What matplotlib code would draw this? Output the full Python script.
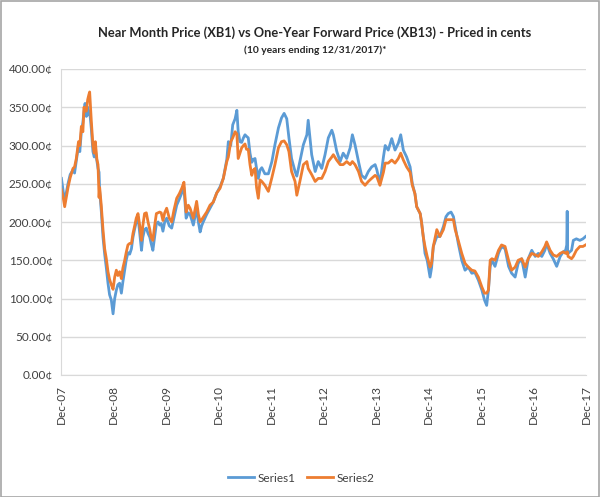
import matplotlib
matplotlib.use('Agg')
import matplotlib.pyplot as plt
from matplotlib.patches import Rectangle
from matplotlib.ticker import FuncFormatter

plt.rcParams['font.family'] = ['Lato', 'DejaVu Sans']

# months after Dec-07 (axis start)
month = [0.1, 0.5, 0.84, 1.2, 1.6, 2.1, 2.74, 3.1, 3.5, 4.0, 4.3, 4.65, 5.0, 5.26, 5.5, 5.8,
         6.1, 6.35, 6.55, 6.93, 7.3, 7.6, 7.85, 8.2, 8.46, 8.7, 8.84, 9.2, 9.6, 9.98, 10.36,
         10.74, 11.1, 11.5, 11.9, 12.27, 12.65, 13.0, 13.4, 13.8, 14.15, 14.56, 14.9, 15.3,
         15.7, 16.1, 16.45, 16.8, 17.2, 17.6, 18.0, 18.4, 18.7, 19.1, 19.5, 19.9, 20.3, 20.6,
         21.0, 21.4, 21.8, 22.2, 22.55, 22.9, 23.3, 23.7, 24.15, 24.75, 25.3, 25.8, 26.45,
         27.05, 27.6, 28.1, 28.6, 29.1, 29.5, 30.25, 31.0, 31.4, 31.8, 32.15, 32.5, 33.3,
         34.06, 34.8, 35.6, 36.35, 37.1, 37.9, 38.25, 38.8, 39.25, 39.8, 40.2, 40.5, 40.9,
         41.3, 41.7, 42.06, 42.4, 42.8, 43.2, 43.6, 44.0, 44.35, 44.7, 45.1, 45.5, 45.9,
         46.6, 47.4, 48.2, 48.9, 49.7, 50.4, 51.0, 51.6, 52.1, 52.7, 53.5, 53.9, 54.6, 55.4,
         56.2, 56.5, 57.3, 58.1, 58.8, 59.6, 60.35, 61.1, 61.9, 62.25, 63.0, 63.8, 64.5,
         65.3, 66.1, 66.6, 67.2, 68.0, 68.7, 69.5, 70.25, 71.0, 71.8, 72.2, 72.9, 73.7, 74.1,
         74.8, 75.6, 76.35, 77.1, 77.65, 78.25, 79.0, 79.8, 80.3, 80.9, 81.3, 82.1, 82.4,
         82.8, 83.2, 83.7, 84.35, 84.7, 85.1, 85.9, 86.6, 87.4, 88.0, 88.5, 89.15, 89.7,
         90.1, 90.8, 91.6, 92.35, 93.1, 93.9, 94.6, 95.4, 96.2, 96.8, 97.3, 97.7, 98.1,
         98.5, 99.2, 100.0, 100.7, 101.5, 102.3, 103.0, 103.8, 104.5, 105.3, 106.1, 106.8,
         107.6, 108.4, 109.1, 109.9, 110.6, 111.0, 111.8, 112.5, 113.3, 114.1, 114.8,
         115.35, 115.6, 115.7, 115.8, 115.9, 116.7, 117.1, 117.8, 118.6, 119.3, 119.9]

series1 = [257, 240, 226, 238, 250, 262, 268, 264, 280, 300, 292, 318, 330, 345, 355, 338,
           350, 340, 345, 322, 292, 285, 295, 280, 270, 265, 240, 215, 180, 158, 140,
           120, 105, 98, 80, 100, 111, 118, 120, 107, 122, 137, 150, 160,
           158, 165, 180, 190, 200, 207, 185, 163, 180, 190, 192, 185, 180, 172,
           163, 180, 198, 200, 196, 198, 188, 200, 205, 195, 192, 205, 222,
           230, 238, 245, 205, 212, 210, 196, 218, 200, 187, 195, 200, 210,
           218, 226, 238, 246, 257, 282, 305, 300, 327, 335, 346, 318, 305,
           304, 310, 314, 312, 310, 290, 278, 282, 283, 270, 257, 268, 271,
           263, 263, 279, 301, 323, 336, 342, 335, 310, 283, 266, 260, 279, 301,
           314, 333, 288, 266, 279, 270, 288, 310, 320, 314, 293, 279, 290,
           283, 297, 314, 301, 279, 261, 257, 266, 272, 275, 268, 250, 285, 300,
           294, 309, 294, 303, 314, 294, 285, 272, 250, 237, 220, 211, 200,
           181, 159, 150, 128, 140, 168, 181, 181, 194, 207, 211, 213, 207,
           194, 172, 150, 137, 141, 133, 134, 124, 111, 98, 91, 111, 142,
           150, 142, 159, 168, 165, 142, 133, 128, 146, 152, 128, 152,
           163, 155, 159, 155, 163, 172, 159, 152, 142, 155, 161,
           163, 170, 214, 162, 159, 163, 176, 178, 176, 178, 181]

series2 = [242, 232, 220, 232, 245, 258, 270, 272, 283, 305, 300, 325, 318, 350, 345, 345,
           360, 366, 370, 332, 300, 290, 305, 282, 275, 232, 245, 222, 190, 165, 152,
           135, 125, 118, 112, 128, 137, 130, 135, 126, 140, 150, 160, 170,
           172, 172, 185, 194, 205, 211, 195, 176, 195, 211, 212, 200, 190, 180,
           176, 195, 211, 212, 213, 212, 202, 212, 218, 205, 200, 215, 231,
           237, 244, 252, 213, 222, 218, 205, 227, 210, 200, 203, 206, 213,
           222, 226, 238, 244, 257, 279, 285, 305, 310, 318, 315, 283, 290,
           297, 300, 302, 295, 295, 275, 261, 268, 270, 245, 231, 255, 253,
           248, 240, 258, 275, 297, 305, 306, 301, 292, 266, 253, 235, 253, 275,
           279, 270, 262, 253, 257, 257, 266, 279, 285, 288, 281, 275, 275,
           279, 275, 279, 275, 266, 253, 248, 253, 257, 261, 259, 248, 265, 277,
           277, 281, 277, 283, 290, 281, 272, 265, 248, 237, 220, 211, 200,
           181, 168, 155, 141, 146, 168, 190, 181, 190, 203, 203, 203, 203,
           190, 176, 159, 146, 141, 137, 136, 128, 115, 107, 107, 111, 150,
           152, 150, 163, 170, 168, 150, 137, 141, 150, 152, 141, 152,
           159, 157, 155, 161, 168, 174, 163, 157, 155, 159, 161,
           159, 160, 161, 160, 155, 152, 155, 163, 168, 168, 170]

tick_months = [0, 12, 24, 36, 48, 60, 72, 84, 96, 108, 120]
tick_labels = ['Dec-07', 'Dec-08', 'Dec-09', 'Dec-10', 'Dec-11', 'Dec-12',
               'Dec-13', 'Dec-14', 'Dec-15', 'Dec-16', 'Dec-17']

fig = plt.figure(figsize=(6, 4.97), dpi=100)
ax = fig.add_axes([61/600, 1 - 375/497, 525/600, 306/497])

ax.plot(month, series1, color='#5B9BD5', lw=2.0, label='Series1', solid_joinstyle='round')
ax.plot(month, series2, color='#ED7D31', lw=2.0, label='Series2', solid_joinstyle='round')

ax.set_xlim(0, 120)
ax.set_ylim(0, 400)
ax.set_yticks(range(0, 401, 50))
ax.yaxis.set_major_formatter(FuncFormatter(lambda v, p: '%.2f\u00a2' % v))
ax.set_xticks(tick_months)
ax.set_xticklabels(tick_labels, rotation=90)
ax.grid(axis='y', color='#D9D9D9', lw=1)
ax.set_axisbelow(True)
for s in ['top', 'right']:
    ax.spines[s].set_visible(False)
for s in ['left', 'bottom']:
    ax.spines[s].set_color('#D9D9D9')
ax.tick_params(axis='both', length=0, labelsize=8.5, colors='#404040')
ax.tick_params(axis='x', pad=7)
ax.tick_params(axis='y', pad=6)

fig.text(315/600, 1 - 33/497, 'Near Month Price (XB1) vs One-Year Forward Price (XB13) - Priced in cents',
         ha='center', va='center', fontsize=9.3, fontweight='bold', color='#262626')
fig.text(315/600, 1 - 50/497, '(10 years ending 12/31/2017)*',
         ha='center', va='center', fontsize=7.4, fontweight='bold', color='#262626')

fig.legend(loc='center', bbox_to_anchor=(301/600, 1 - 478/497), ncol=2, frameon=False,
           fontsize=8.5, handlelength=2.2, handletextpad=0.3, columnspacing=1.0,
           labelcolor='#404040')

fig.patches.append(Rectangle((0.001, 0.001), 0.997, 0.997, transform=fig.transFigure,
                             fill=False, edgecolor='#A6A6A6', lw=1.2))

fig.savefig('out.png', dpi=100)
